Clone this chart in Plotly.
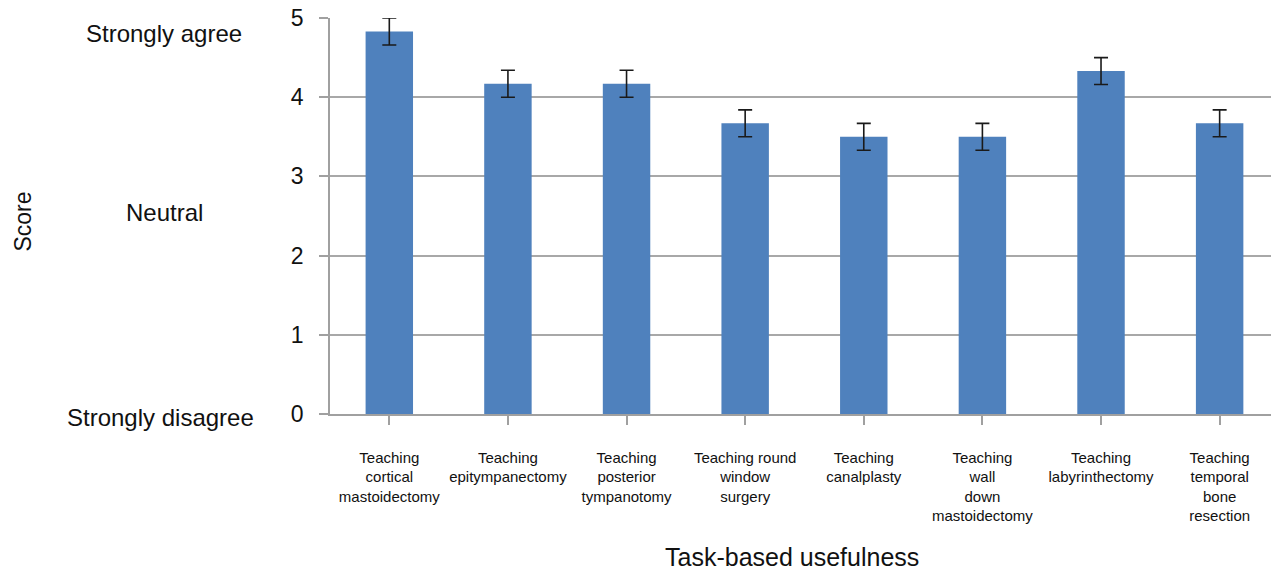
import plotly.graph_objects as go

categories = [
    "Teaching<br>cortical<br>mastoidectomy",
    "Teaching<br>epitympanectomy",
    "Teaching<br>posterior<br>tympanotomy",
    "Teaching round<br>window<br>surgery",
    "Teaching<br>canalplasty",
    "Teaching<br>wall<br>down<br>mastoidectomy",
    "Teaching<br>labyrinthectomy",
    "Teaching<br>temporal<br>bone<br>resection",
]
scores = [4.83, 4.17, 4.17, 3.67, 3.50, 3.50, 4.33, 3.67]
errors = [0.17, 0.17, 0.17, 0.17, 0.17, 0.17, 0.17, 0.17]
y_ticks = [0, 1, 2, 3, 4, 5]
scale_labels = ["Strongly agree", "Neutral", "Strongly disagree"]

FONT = "Liberation Sans, Arial, sans-serif"

fig = go.Figure()
fig.add_trace(go.Bar(
    x=list(range(len(categories))),
    y=scores,
    marker=dict(color="#4f81bd", line=dict(width=0)),
    error_y=dict(type="data", array=errors, visible=True, color="#1a1a1a",
                 thickness=1.6, width=7),
    width=0.4,
))

for txt, (px, py) in zip(scale_labels, [(-0.1768, 0.962), (-0.1758, 0.510), (-0.1806, -0.0076)]):
    fig.add_annotation(text=txt, xref="paper", yref="paper", x=px, y=py,
                       xanchor="center", yanchor="middle", showarrow=False,
                       font=dict(family=FONT, size=24, color="#111"))

fig.add_annotation(text="Score", xref="paper", yref="paper", x=-0.3266, y=0.485,
                   textangle=-90, xanchor="center", yanchor="middle",
                   showarrow=False, font=dict(family=FONT, size=23, color="#111"))
fig.add_annotation(text="Task-based usefulness", xref="paper", yref="paper",
                   x=0.4912, y=-0.360, xanchor="center", yanchor="middle",
                   showarrow=False, font=dict(family=FONT, size=25, color="#111"))

fig.update_layout(
    width=1271, height=570,
    margin=dict(l=329.5, r=0, t=18, b=156),
    paper_bgcolor="white", plot_bgcolor="white",
    showlegend=False,
    font=dict(family=FONT, color="#111"),
)
fig.update_xaxes(
    range=[-0.5, 7.433],
    tickmode="array",
    tickvals=list(range(len(categories))),
    ticktext=categories,
    tickson="boundaries",
    ticks="outside", ticklen=9, tickcolor="#a0a0a0", tickwidth=1.5,
    showline=True, linecolor="#a0a0a0", linewidth=1.5,
    showgrid=False, zeroline=False,
    tickfont=dict(family=FONT, size=15, color="#111"),
    ticklabelstandoff=20,
    tickangle=0,
)
fig.update_yaxes(
    range=[0, 5],
    tickmode="array", tickvals=y_ticks, ticktext=[str(v) for v in y_ticks],
    ticks="outside", ticklen=9, tickcolor="#a0a0a0", tickwidth=1.5,
    showline=True, linecolor="#a0a0a0", linewidth=1.5,
    showgrid=True, gridcolor="#a8a8a8", gridwidth=1.5,
    zeroline=False,
    tickfont=dict(family=FONT, size=23, color="#111"),
    ticklabelstandoff=11,
)

fig.write_html("out.html")
